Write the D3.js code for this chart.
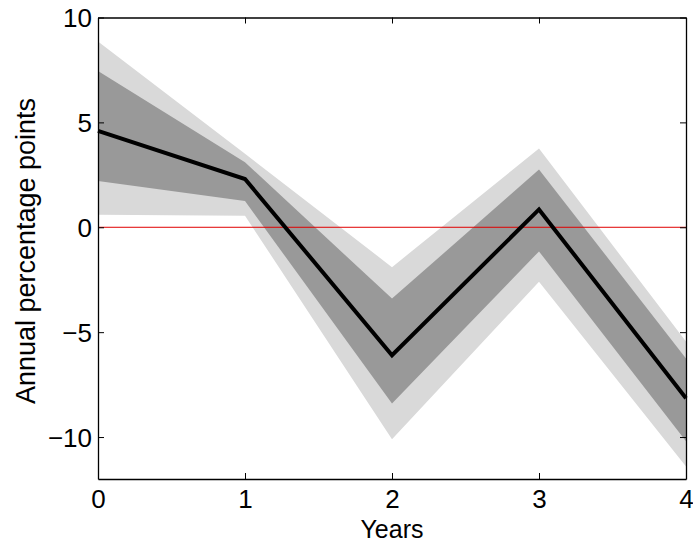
<!DOCTYPE html>
<html><head><meta charset="utf-8">
<script src="https://cdn.jsdelivr.net/npm/d3@7"></script>
<style>body{margin:0;background:#fff}svg{display:block}text{font-family:"Liberation Sans",Arial,sans-serif;fill:#000}</style>
</head><body>
<svg id="c" width="693" height="542"></svg>
<script>
const years = [0, 1, 2, 3, 4];
const median = [4.6, 2.3, -6.1, 0.85, -8.15];
const innerUpper = [7.45, 3.1, -3.4, 2.75, -6.25];
const innerLower = [2.2, 1.25, -8.4, -1.15, -10.2];
const outerUpper = [8.85, 3.5, -1.9, 3.75, -5.45];
const outerLower = [0.6, 0.55, -10.1, -2.6, -11.4];
const xTicks = [0, 1, 2, 3, 4];
const yTicks = [-10, -5, 0, 5, 10];

const L = 98, R = 686, T = 17.5, B = 479;
const svg = d3.select("#c");
const x = d3.scaleLinear().domain([0, 4]).range([L, R]);
const y = d3.scaleLinear().domain([-12, 10]).range([B, T]);

const area = (lo, hi) => d3.area().x((d, i) => x(years[i])).y0((d, i) => y(lo[i])).y1((d, i) => y(hi[i]))(years);
svg.append("path").attr("d", area(outerLower, outerUpper)).attr("fill", "#d9d9d9");
svg.append("path").attr("d", area(innerLower, innerUpper)).attr("fill", "#999999");
svg.append("line").attr("x1", L).attr("x2", R).attr("y1", y(0)).attr("y2", y(0)).attr("stroke", "#e00000").attr("stroke-width", 1);
svg.append("path").attr("d", d3.line().x((d, i) => x(years[i])).y(d => y(d))(median))
  .attr("fill", "none").attr("stroke", "#000").attr("stroke-width", 4).attr("stroke-linejoin", "miter");

// axes box with inward ticks
const gB = svg.append("g").attr("transform", `translate(0,${B})`).call(d3.axisBottom(x).tickValues(xTicks).tickSizeInner(-6).tickSizeOuter(0).tickPadding(12).tickFormat(d3.format("d")));
const gT = svg.append("g").attr("transform", `translate(0,${T})`).call(d3.axisTop(x).tickValues(xTicks).tickSizeInner(-6).tickSizeOuter(0).tickFormat(""));
const gL = svg.append("g").attr("transform", `translate(${L},0)`).call(d3.axisLeft(y).tickValues(yTicks).tickSizeInner(-6).tickSizeOuter(0).tickPadding(12).tickFormat(d => d < 0 ? "\u2212" + Math.abs(d) : d));
const gR = svg.append("g").attr("transform", `translate(${R},0)`).call(d3.axisRight(y).tickValues(yTicks).tickSizeInner(-6).tickSizeOuter(0).tickFormat(""));
[gB, gT, gL, gR].forEach(g => {
  g.select(".domain").attr("stroke", "#000").attr("stroke-width", 1.3);
  g.selectAll(".tick line").attr("stroke", "#000");
  g.selectAll("text").attr("font-size", 26).attr("font-family", "Liberation Sans, Arial, sans-serif").attr("fill", "#000");
});
gB.selectAll("text").attr("dy", "0.71em").attr("y", 11);
gL.selectAll("text").attr("x", -6).attr("dy", "0.36em");

svg.append("text").attr("x", (L + R) / 2).attr("y", 538).attr("text-anchor", "middle").attr("font-size", 25).text("Years");
svg.append("text").attr("transform", `translate(35,251) rotate(-90)`).attr("text-anchor", "middle").attr("font-size", 27).text("Annual percentage points");
</script>
</body></html>
